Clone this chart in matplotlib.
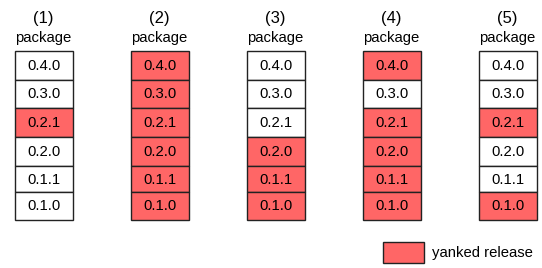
import matplotlib
matplotlib.use("Agg")
import matplotlib.pyplot as plt
from matplotlib.patches import Rectangle

plt.rcParams['font.family'] = ['Liberation Sans', 'DejaVu Sans']

# data
scenarios = ["(1)", "(2)", "(3)", "(4)", "(5)"]
versions = ["0.4.0", "0.3.0", "0.2.1", "0.2.0", "0.1.1", "0.1.0"]
# 1 = yanked, order matches versions (top to bottom)
yanked = [
    [0, 0, 1, 0, 0, 0],
    [1, 1, 1, 1, 1, 1],
    [0, 0, 0, 1, 1, 1],
    [1, 0, 1, 1, 1, 1],
    [0, 0, 1, 0, 0, 1],
]
header = "package"
legend_label = "yanked release"

red = "#ff6666"
edge = "#222222"

fig = plt.figure(figsize=(5.42, 2.68), dpi=100)
ax = fig.add_axes([0, 0, 1, 1])
ax.set_xlim(0, 542)
ax.set_ylim(268, 0)
ax.axis("off")

x0 = 14.5
dx = 116
w = 58
row_edges = [51, 80, 108, 137, 166, 192, 220]

for i, name in enumerate(scenarios):
    left = x0 + i * dx
    cx = left + w / 2
    ax.text(cx, 18, name, ha="center", va="center", fontsize=12)
    ax.text(cx, 38, header, ha="center", va="center", fontsize=10.7)
    for j, v in enumerate(versions):
        top = row_edges[j]
        h = row_edges[j + 1] - top
        fc = red if yanked[i][j] else "white"
        ax.add_patch(Rectangle((left, top), w, h, facecolor=fc,
                               edgecolor=edge, lw=1.0))
        ax.text(cx, top + h / 2 + 0.5, v, ha="center", va="center",
                fontsize=10.7)

# legend
ax.add_patch(Rectangle((383, 242), 41, 21, facecolor=red, edgecolor=edge, lw=1.0))
ax.text(432, 253, legend_label, ha="left", va="center", fontsize=10.7)

fig.savefig("out.png", dpi=100)
